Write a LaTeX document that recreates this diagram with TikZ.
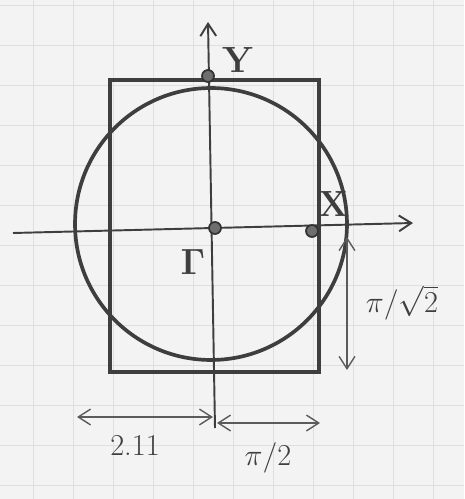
\documentclass[tikz,border=0pt]{standalone}
\usepackage{amsmath}
\usepackage{amssymb}
\usepackage{tikz}
\usetikzlibrary{positioning, arrows.meta}
\usepackage{xcolor}
\definecolor{pencil}{RGB}{62,62,62}
\definecolor{paper}{RGB}{243,243,243}

\begin{document}
\begin{tikzpicture}[
    x=0.02cm, y=-0.02cm,
    >={Straight Barb[length=7pt, width=9pt]},
    frame/.style={draw=pencil, line width=2.1pt},
    axis/.style={->, draw=pencil, line width=1.1pt},
    dim/.style={<->, draw=pencil!85, line width=0.8pt},
    pt/.style={circle, draw=pencil!80!black, fill=pencil!75, line width=1pt,
        minimum size=0.24cm, inner sep=0pt},
    lbl/.style={font=\huge, text=pencil},
    dimlbl/.style={font=\LARGE, text=pencil}
]
    % paper
    \fill[paper] (0,0) rectangle (464,499);
    \useasboundingbox (0,0) rectangle (464,499);
    \foreach \gx in {33,73,...,473} \draw[gray!25, line width=0.4pt] (\gx,0) -- (\gx,499);
    \foreach \gy in {5,45,...,499} \draw[gray!25, line width=0.4pt] (0,\gy) -- (464,\gy);

    % zone
    \coordinate (c) at (211,224);
    \draw[frame] (110,80) rectangle (319,372);
    \draw[frame] (c) circle (2.72cm);

    % axes
    \coordinate (hl) at (13,233);
    \coordinate (hr) at (413,223);
    \coordinate (vb) at (215,428);
    \coordinate (vt) at (208,22);
    \draw[axis] (hl) -- (hr);
    \draw[axis] (vb) -- (vt);

    % points
    \node[pt] (G) at (215,228) {};
    \node[pt] (Y) at (208,76) {};
    \node[pt] (X) at (312,231) {};
    \node[lbl] (Gl) at (193,262) {$\mathbf{\Gamma}$};
    \node[lbl] (Yl) at (238,60) {$\mathbf{Y}$};
    \node[lbl] (Xl) at (333,204) {$\mathbf{X}$};

    % dimensions
    \coordinate (d1l) at (77,417);
    \coordinate (d1r) at (213,417);
    \coordinate (d2l) at (217,423);
    \coordinate (d2r) at (320,423);
    \coordinate (d3t) at (347,237);
    \coordinate (d3b) at (347,370);
    \draw[dim] (d1l) -- (d1r);
    \draw[dim] (d2l) -- (d2r);
    \draw[dim] (d3t) -- (d3b);
    \node[dimlbl] (a) at (135,445) {2.11};
    \node[dimlbl] (b) at (268,458) {$\pi/2$};
    \node[dimlbl] (h) at (402,303) {$\pi/\sqrt{2}$};
\end{tikzpicture}
\end{document}
